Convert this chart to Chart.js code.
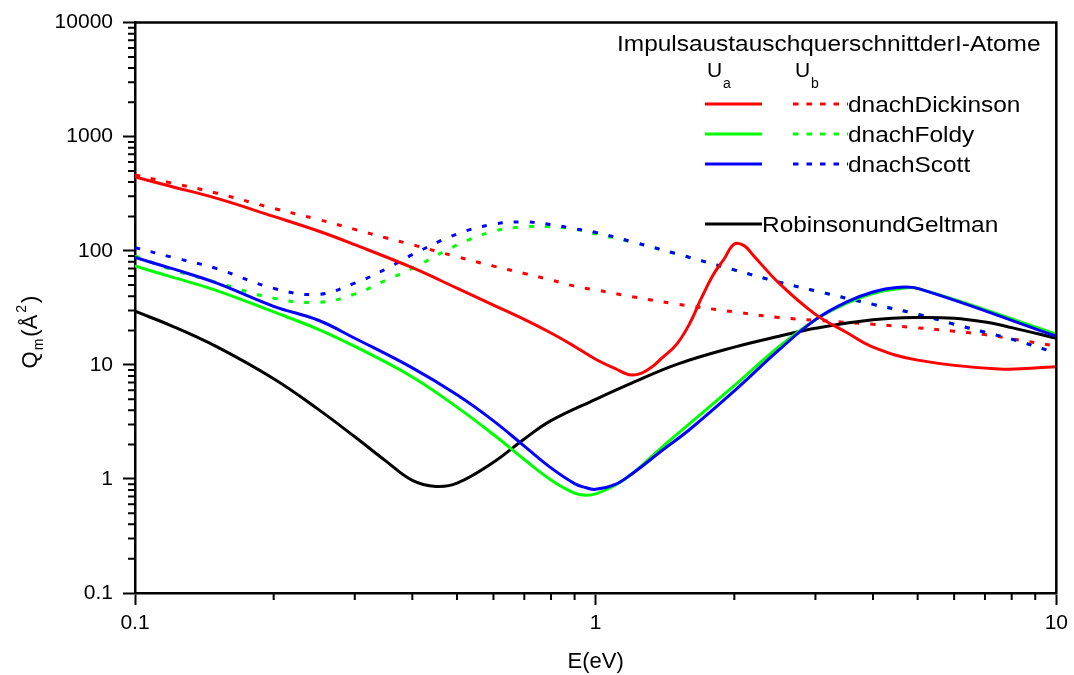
<!DOCTYPE html>
<html>
<head>
<meta charset="utf-8">
<script src="https://cdn.jsdelivr.net/npm/chart.js@4.4.0/dist/chart.umd.min.js"></script>
<style>
  html, body { margin: 0; padding: 0; background: #fff; }
  canvas { display: block; }
</style>
</head>
<body>
<canvas id="chart" width="1074" height="675"></canvas>
<script>
// Momentum transfer cross sections Q_m(E) for I atoms, log-log
const energyDickinsonA = [0.1, 0.12, 0.15, 0.2, 0.25, 0.3, 0.4, 0.5, 0.6, 0.7, 0.8, 0.9, 1.0, 1.1, 1.2, 1.3, 1.4, 1.5, 1.6, 1.7, 1.8, 1.9, 2.0, 2.1, 2.2, 2.5, 3, 3.5, 4, 5, 7.5, 10];
const dickinsonA = [444, 366, 289, 200, 149, 113, 71, 47, 33.4, 25, 19, 14.5, 11.2, 9.3, 8.15, 9.1, 11.7, 15.2, 23, 39.2, 61.7, 84.7, 114.6, 111, 91, 52, 27.7, 19.3, 14.3, 11, 9.2, 9.6];

const energyA = [0.1, 0.12, 0.15, 0.2, 0.25, 0.3, 0.4, 0.5, 0.6, 0.7, 0.8, 0.9, 0.95, 1.0, 1.1, 1.2, 1.4, 1.6, 2, 2.5, 3, 3.5, 4, 4.5, 5, 10];
const foldyA = [73.5, 59, 45, 29.1, 20.5, 14.5, 7.83, 4.26, 2.45, 1.48, 0.98, 0.75, 0.72, 0.74, 0.876, 1.11, 1.93, 3.05, 6.56, 14.4, 24.9, 34.6, 42.2, 46.2, 46.8, 18.6];
const scottA = [87.3, 70, 52.3, 32.6, 24.6, 17.1, 9.4, 5.46, 3.23, 1.94, 1.25, 0.91, 0.84, 0.81, 0.89, 1.11, 1.8, 2.71, 5.9, 13.5, 24.9, 35.5, 43.5, 47.6, 46.8, 17.8];

const energyB = [0.1, 0.12, 0.15, 0.2, 0.25, 0.3, 0.35, 0.4, 0.5, 0.6, 0.7, 0.8, 0.9, 1, 1.2, 1.5, 2, 2.5, 3, 4, 5, 6, 7, 8, 10];
const dickinsonB = [462, 393, 321, 235, 188, 154, 130, 113, 88.6, 73.4, 63.2, 55.5, 48.9, 45.4, 39.6, 34.1, 29.1, 26, 24.6, 22.7, 21.1, 19.7, 18.4, 16.9, 14.6];
const foldyB = [90, 68.5, 53, 38.3, 35.3, 41.7, 55, 70, 112, 148, 162, 162, 155, 141, 119, 93.8, 67.7, 53.1, 44.5, 33.9, 27.8, 22.7, 19.3, 16.8, 12.7];
const scottB = [106.6, 88, 70, 46.8, 41.5, 52, 69, 92.5, 140, 171, 179, 170, 156, 145, 120, 94, 68, 53.1, 44.5, 33.9, 27.8, 22.7, 19.3, 16.8, 12.7];

const energyRG = [0.1, 0.12, 0.15, 0.2, 0.25, 0.3, 0.35, 0.4, 0.45, 0.5, 0.6, 0.7, 0.8, 1, 1.2, 1.5, 2, 2.5, 3, 4, 5, 6, 7, 8, 10];
const robinsonGeltman = [29.5, 22, 14.5, 7.55, 4.07, 2.34, 1.44, 0.97, 0.86, 0.917, 1.4, 2.24, 3.24, 4.98, 6.94, 10.1, 14.3, 17.8, 20.9, 24.8, 26, 25.6, 23.7, 21.2, 17.1];

const xTicks = [0.1, 1, 10];
const yTicks = [0.1, 1, 10, 100, 1000, 10000];

const legendTitle = 'ImpulsaustauschquerschnittderI-Atome';
const legendRows = [
  { label: 'dnachDickinson', color: '#ff0000' },
  { label: 'dnachFoldy', color: '#00ff00' },
  { label: 'dnachScott', color: '#0000ff' }
];
const refLabel = 'RobinsonundGeltman';

const FONT = '"Liberation Sans", Arial, sans-serif';
const DASH = [5, 11];
const STRETCH = 1.11;   // legend lettering is set a bit wide

function pairs(xs, ys) {
  return xs.map((x, i) => ({ x: x, y: ys[i] }));
}

function series(data, color, dashed) {
  return {
    data: data,
    showLine: true,
    borderColor: color,
    borderWidth: 3,
    borderDash: dashed ? DASH : [],
    pointRadius: 0,
    tension: 0.4,
    fill: false
  };
}

// horizontally widened text, drawn from its left edge
function wideText(ctx, str, x, y) {
  ctx.save();
  ctx.translate(x, y);
  ctx.scale(STRETCH, 1);
  ctx.fillText(str, 0, 0);
  ctx.restore();
}

const decorations = {
  id: 'decorations',
  afterDraw(chart) {
    const ctx = chart.ctx;
    const { left, right, top, bottom } = chart.chartArea;
    const xs = chart.scales.x;
    const ys = chart.scales.y;
    ctx.save();

    // closing frame on top and right
    ctx.strokeStyle = '#000';
    ctx.lineWidth = 2.5;
    ctx.beginPath();
    ctx.moveTo(left - 1, top);
    ctx.lineTo(right, top);
    ctx.lineTo(right, bottom + 1);
    ctx.stroke();

    // minor ticks
    ctx.lineWidth = 2;
    ctx.beginPath();
    for (let e = -1; e < 4; e++) {
      for (let k = 2; k < 10; k++) {
        const py = ys.getPixelForValue(k * Math.pow(10, e));
        ctx.moveTo(left - 7, py);
        ctx.lineTo(left, py);
      }
    }
    for (let e = -1; e < 1; e++) {
      for (let k = 2; k < 10; k++) {
        const px = xs.getPixelForValue(k * Math.pow(10, e));
        ctx.moveTo(px, bottom);
        ctx.lineTo(px, bottom + 7);
      }
    }
    ctx.stroke();

    // axis titles
    ctx.fillStyle = '#000';
    ctx.textBaseline = 'alphabetic';
    ctx.font = '22px ' + FONT;
    ctx.textAlign = 'center';
    ctx.fillText('E(eV)', (left + right) / 2, 668);

    ctx.textAlign = 'left';
    const big = '22px ' + FONT, small = '14px ' + FONT;
    const parts = [['Q', big, 0, 1], ['m', small, 6, 2], ['(Å', big, 0, 2], ['2', small, -11, 2], [')', big, 0, 0]];
    let total = 0;
    for (const p of parts) { ctx.font = p[1]; total += ctx.measureText(p[0]).width + p[3]; }
    ctx.translate(37, 332 + total / 2);
    ctx.rotate(-Math.PI / 2);
    let cx = 0;
    for (const p of parts) {
      ctx.font = p[1];
      ctx.fillText(p[0], cx, p[2]);
      cx += ctx.measureText(p[0]).width + p[3];
    }
    ctx.setTransform(1, 0, 0, 1, 0, 0);

    // legend
    ctx.font = '22px ' + FONT;
    wideText(ctx, legendTitle, 617, 51);
    ctx.font = '21px ' + FONT;
    ctx.fillText('U', 707, 77);
    ctx.fillText('U', 795, 77);
    ctx.font = '14px ' + FONT;
    ctx.fillText('a', 723, 88);
    ctx.fillText('b', 811, 88);

    ctx.lineWidth = 3;
    ctx.font = '22px ' + FONT;
    legendRows.forEach((row, i) => {
      const y = 104 + i * 30;
      ctx.strokeStyle = row.color;
      ctx.setLineDash([]);
      ctx.beginPath();
      ctx.moveTo(705, y);
      ctx.lineTo(762, y);
      ctx.stroke();
      ctx.setLineDash([5.5, 8]);
      ctx.beginPath();
      ctx.moveTo(793, y);
      ctx.lineTo(848, y);
      ctx.stroke();
      ctx.setLineDash([]);
      wideText(ctx, row.label, 848, y + 8);
    });
    ctx.strokeStyle = '#000';
    ctx.beginPath();
    ctx.moveTo(705, 224);
    ctx.lineTo(762, 224);
    ctx.stroke();
    wideText(ctx, refLabel, 762, 232);

    ctx.restore();
  }
};

new Chart(document.getElementById('chart'), {
  type: 'scatter',
  data: {
    datasets: [
      series(pairs(energyDickinsonA, dickinsonA), '#ff0000', false),
      series(pairs(energyA, scottA), '#0000ff', false),
      series(pairs(energyA, foldyA), '#00ff00', false),
      series(pairs(energyRG, robinsonGeltman), '#000000', false),
      series(pairs(energyB, scottB), '#0000ff', true),
      series(pairs(energyB, foldyB), '#00ff00', true),
      series(pairs(energyB, dickinsonB), '#ff0000', true)
    ]
  },
  options: {
    responsive: false,
    animation: false,
    layout: { padding: { top: 20, right: 14, left: 0, bottom: 0 } },
    plugins: { legend: { display: false }, tooltip: { enabled: false } },
    scales: {
      x: {
        type: 'logarithmic',
        min: 0.1,
        max: 10,
        afterBuildTicks: s => { s.ticks = xTicks.map(v => ({ value: v })); },
        afterFit: s => { s.height = 82; },
        border: { display: true, color: '#000', width: 2.5 },
        grid: { display: true, drawOnChartArea: false, drawTicks: true, tickLength: 12, tickWidth: 2, tickColor: '#000' },
        ticks: {
          autoSkip: false,
          maxRotation: 0,
          padding: 6,
          color: '#000',
          font: { family: FONT, size: 21 },
          callback: v => String(v)
        }
      },
      y: {
        type: 'logarithmic',
        min: 0.1,
        max: 10000,
        afterBuildTicks: s => { s.ticks = yTicks.map(v => ({ value: v })); },
        afterFit: s => { s.width = 135; },
        border: { display: true, color: '#000', width: 2.5 },
        grid: { display: true, drawOnChartArea: false, drawTicks: true, tickLength: 12, tickWidth: 2, tickColor: '#000' },
        ticks: {
          autoSkip: false,
          padding: 10,
          color: '#000',
          font: { family: FONT, size: 21 },
          callback: v => String(v)
        }
      }
    }
  },
  plugins: [decorations]
});
</script>
</body>
</html>
